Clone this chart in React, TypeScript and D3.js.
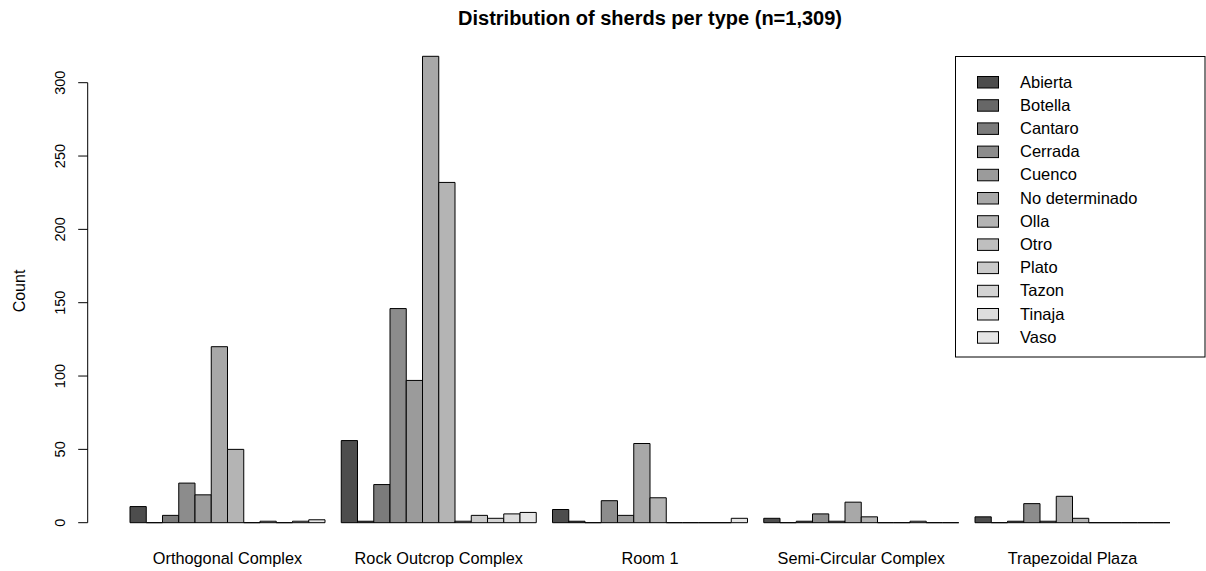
import React from "react";
import * as d3 from "d3";

const groups = [
  "Orthogonal Complex",
  "Rock Outcrop Complex",
  "Room 1",
  "Semi-Circular Complex",
  "Trapezoidal Plaza",
];

const types = [
  "Abierta",
  "Botella",
  "Cantaro",
  "Cerrada",
  "Cuenco",
  "No determinado",
  "Olla",
  "Otro",
  "Plato",
  "Tazon",
  "Tinaja",
  "Vaso",
];

// counts per type, one array per group (order follows `types`)
const orthogonal = [11, 0, 5, 27, 19, 120, 50, 0, 1, 0, 1, 2];
const rockOutcrop = [56, 1, 26, 146, 97, 318, 232, 1, 5, 3, 6, 7];
const room1 = [9, 1, 0, 15, 5, 54, 17, 0, 0, 0, 0, 3];
const semiCircular = [3, 0, 1, 6, 1, 14, 4, 0, 0, 1, 0, 0];
const trapezoidal = [4, 0, 1, 13, 1, 18, 3, 0, 0, 0, 0, 0];

const seriesByGroup = [orthogonal, rockOutcrop, room1, semiCircular, trapezoidal];

const yTicks = [0, 50, 100, 150, 200, 250, 300];

const title = "Distribution of sherds per type (n=1,309)";
const yLabel = "Count";

// R gray.colors(12, start = 0.3, end = 0.9, gamma = 2.2)
function grayColors(n: number, start = 0.3, end = 0.9, gamma = 2.2): string[] {
  const a = Math.pow(start, gamma);
  const b = Math.pow(end, gamma);
  const out: string[] = [];
  for (let i = 0; i < n; i++) {
    const v = Math.pow(a + ((b - a) * i) / (n - 1), 1 / gamma);
    const c = Math.round(v * 255);
    out.push(d3.rgb(c, c, c).formatHex());
  }
  return out;
}

const W = 1206;
const H = 571;
const FONT = "'Liberation Sans', Arial, Helvetica, sans-serif";

export default function App() {
  const colors = grayColors(types.length);
  const color = d3.scaleOrdinal<string, string>().domain(types).range(colors);

  const y = d3.scaleLinear().domain([0, 300]).range([522.7, 82.7]);
  const xGroup = d3
    .scaleBand<string>()
    .domain(groups)
    .range([130, 1170])
    .paddingInner(1 / 13)
    .paddingOuter(0);
  const xType = d3
    .scaleBand<string>()
    .domain(types)
    .range([0, xGroup.bandwidth()])
    .padding(0);

  const axisX = 87.7;
  const bw = xType.bandwidth();

  const legendX = 955.5;
  const legendY = 56.5;
  const rowH = 23.2;

  return (
    <svg
      width={W}
      height={H}
      style={{ position: "absolute", left: 0, top: 0, background: "#fff" }}
      fontFamily={FONT}
    >
      <rect x={0} y={0} width={W} height={H} fill="#fff" />
      <text
        x={650}
        y={25}
        textAnchor="middle"
        fontSize={20}
        fontWeight="bold"
        fill="#000"
      >
        {title}
      </text>

      {/* bars */}
      {groups.map((g, gi) => (
        <g key={g}>
          {types.map((t, ti) => {
            const v = seriesByGroup[gi][ti];
            const x0 = (xGroup(g) as number) + (xType(t) as number);
            const y0 = y(0);
            const y1 = y(v);
            const d = `M${x0},${y0}V${y1}H${x0 + bw}V${y0}Z`;
            return (
              <path
                key={t}
                d={d}
                fill={color(t)}
                stroke="#000"
                strokeWidth={1}
              />
            );
          })}
          <text
            x={(xGroup(g) as number) + xGroup.bandwidth() / 2}
            y={564}
            textAnchor="middle"
            fontSize={16.3}
            fill="#000"
          >
            {g}
          </text>
        </g>
      ))}

      {/* y axis */}
      <line
        x1={axisX}
        x2={axisX}
        y1={y(yTicks[0])}
        y2={y(yTicks[yTicks.length - 1])}
        stroke="#000"
        strokeWidth={1}
      />
      {yTicks.map((t) => (
        <g key={t}>
          <line
            x1={axisX - 9.5}
            x2={axisX}
            y1={y(t)}
            y2={y(t)}
            stroke="#000"
            strokeWidth={1}
          />
          <text
            transform={`translate(65,${y(t)}) rotate(-90)`}
            textAnchor="middle"
            fontSize={14.5}
            fill="#000"
          >
            {t}
          </text>
        </g>
      ))}
      <text
        transform={`translate(25,291) rotate(-90)`}
        textAnchor="middle"
        fontSize={16}
        fill="#000"
      >
        {yLabel}
      </text>

      {/* legend */}
      <rect
        x={legendX}
        y={legendY}
        width={1205 - legendX}
        height={357 - legendY}
        fill="#fff"
        stroke="#000"
        strokeWidth={1}
      />
      {types.map((t, i) => {
        const cy = 82 + i * rowH;
        return (
          <g key={t}>
            <rect
              x={977.5}
              y={cy - 5.5}
              width={21}
              height={11.5}
              fill={color(t)}
              stroke="#000"
              strokeWidth={1}
            />
            <text x={1020} y={cy + 5.5} fontSize={16.5} fill="#000">
              {t}
            </text>
          </g>
        );
      })}
    </svg>
  );
}
